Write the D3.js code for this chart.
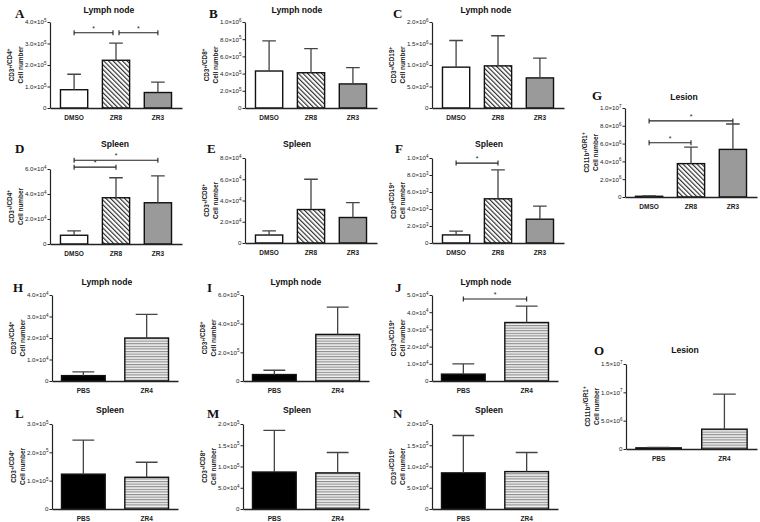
<!DOCTYPE html>
<html><head><meta charset="utf-8">
<script src="https://cdn.jsdelivr.net/npm/d3@7"></script>
<style>body{margin:0;background:#fff}svg{display:block}</style>
</head><body><svg id="c" width="760" height="522"></svg>
<script>
// ---------- data ----------
const groupsTreat = ["DMSO", "ZR8", "ZR3"];
const groupsPBS = ["PBS", "ZR4"];

const meanA = [0.85e5, 2.22e5, 0.72e5], errA = [0.72e5, 0.80e5, 0.48e5];
const ticksA = [0, 1e5, 2e5, 3e5, 4e5];
const sigA = [[0, 1, 3.5e5], [1, 2, 3.5e5]];

const meanB = [4.3e5, 4.1e5, 2.8e5], errB = [3.5e5, 2.8e5, 1.9e5];
const ticksB = [0, 2e5, 4e5, 6e5, 8e5, 1e6];

const meanC = [9.5e5, 9.8e5, 7.0e5], errC = [6.2e5, 7.0e5, 4.6e5];
const ticksC = [0, 5e5, 1e6, 1.5e6, 2e6];

const meanD = [0.7e4, 3.7e4, 3.3e4], errD = [0.35e4, 1.6e4, 2.15e4];
const ticksD = [0, 2e4, 4e4, 6e4];
const sigD = [[0, 1, 6.15e4], [0, 2, 6.7e4]];

const meanE = [0.75e4, 3.15e4, 2.4e4], errE = [0.4e4, 2.85e4, 1.4e4];
const ticksE = [0, 2e4, 4e4, 6e4, 8e4];

const meanF = [0.95e3, 5.2e3, 2.8e3], errF = [0.45e3, 3.4e3, 1.55e3];
const ticksF = [0, 2e3, 4e3, 6e3, 8e3, 1e4];
const sigF = [[0, 1, 9.4e3]];

const meanG = [0.08e6, 3.75e6, 5.35e6], errG = [0.05e6, 1.85e6, 2.85e6];
const ticksG = [0, 2e6, 4e6, 6e6, 8e6, 1e7];
const sigG = [[0, 1, 6.1e6], [0, 2, 8.55e6]];

const meanH = [0.25e4, 2.0e4], errH = [0.17e4, 1.1e4];
const ticksH = [0, 1e4, 2e4, 3e4, 4e4];

const meanI = [0.45e5, 3.25e5], errI = [0.3e5, 1.9e5];
const ticksI = [0, 2e5, 4e5, 6e5];

const meanJ = [0.4e4, 3.4e4], errJ = [0.6e4, 0.95e4];
const ticksJ = [0, 1e4, 2e4, 3e4, 4e4, 5e4];
const sigJ = [[0, 1, 4.77e4]];

const meanL = [1.23e5, 1.12e5], errL = [1.2e5, 0.53e5];
const ticksL = [0, 1e5, 2e5, 3e5];

const meanM = [0.87e5, 0.85e5], errM = [0.98e5, 0.48e5];
const ticksM = [0, 5e4, 1e5, 1.5e5, 2e5];

const meanN = [0.85e5, 0.88e5], errN = [0.88e5, 0.45e5];
const ticksN = [0, 5e4, 1e5, 1.5e5, 2e5];

const meanO = [0.02e7, 0.35e7], errO = [0.01e7, 0.62e7];
const ticksO = [0, 5e6, 1e7, 1.5e7];

// ---------- layout ----------
const panels = [
  {id:"A", title:"Lymph node", lab:["CD3","/CD4"], g:groupsTreat, m:meanA, e:errA, t:ticksA, s:sigA, x:50, top:22, bot:108, w:132, lx:15, ly:18, tx:109, ty:13},
  {id:"B", title:"Lymph node", lab:["CD3","/CD8"], g:groupsTreat, m:meanB, e:errB, t:ticksB, s:[], x:245, top:22, bot:108, w:132, lx:209, ly:18, tx:297, ty:13},
  {id:"C", title:"Lymph node", lab:["CD3","/CD19"], g:groupsTreat, m:meanC, e:errC, t:ticksC, s:[], x:432, top:22, bot:108, w:132, lx:393, ly:18, tx:486, ty:13},
  {id:"D", title:"Spleen", lab:["CD3","/CD4"], g:groupsTreat, m:meanD, e:errD, t:ticksD, s:sigD, x:50, top:169, bot:244, w:132, lx:15, ly:153, tx:115, ty:147},
  {id:"E", title:"Spleen", lab:["CD3","/CD8"], g:groupsTreat, m:meanE, e:errE, t:ticksE, s:[], x:245, top:158, bot:243, w:132, lx:207, ly:153, tx:297, ty:147},
  {id:"F", title:"Spleen", lab:["CD3","/CD19"], g:groupsTreat, m:meanF, e:errF, t:ticksF, s:sigF, x:432, top:158, bot:243, w:132, lx:395, ly:153, tx:489, ty:147},
  {id:"G", title:"Lesion", lab:["CD11b","/GR1"], g:groupsTreat, m:meanG, e:errG, t:ticksG, s:sigG, x:625, top:108, bot:197, w:132, lx:592, ly:100, tx:684, ty:100},
  {id:"H", title:"Lymph node", lab:["CD3","/CD4"], g:groupsPBS, m:meanH, e:errH, t:ticksH, s:[], x:52, top:295, bot:381, w:126, lx:13, ly:292, tx:107, ty:285},
  {id:"I", title:"Lymph node", lab:["CD3","/CD8"], g:groupsPBS, m:meanI, e:errI, t:ticksI, s:[], x:243, top:295, bot:381, w:126, lx:207, ly:292, tx:296, ty:285},
  {id:"J", title:"Lymph node", lab:["CD3","/CD19"], g:groupsPBS, m:meanJ, e:errJ, t:ticksJ, s:sigJ, x:432, top:295, bot:381, w:126, lx:395, ly:292, tx:486, ty:285},
  {id:"L", title:"Spleen", lab:["CD3","/CD4"], g:groupsPBS, m:meanL, e:errL, t:ticksL, s:[], x:52, top:424, bot:509, w:126, lx:15, ly:418, tx:110, ty:413},
  {id:"M", title:"Spleen", lab:["CD3","/CD8"], g:groupsPBS, m:meanM, e:errM, t:ticksM, s:[], x:243, top:424, bot:509, w:126, lx:207, ly:418, tx:297, ty:413},
  {id:"N", title:"Spleen", lab:["CD3","/CD19"], g:groupsPBS, m:meanN, e:errN, t:ticksN, s:[], x:432, top:424, bot:509, w:126, lx:393, ly:418, tx:489, ty:413},
  {id:"O", title:"Lesion", lab:["CD11b","/GR1"], g:groupsPBS, m:meanO, e:errO, t:ticksO, s:[], x:626, top:364, bot:449, w:131, lx:594, ly:355, tx:685, ty:353}
];

const SANS = "'Liberation Sans', Arial, sans-serif";
const SERIF = "'Liberation Serif', 'Times New Roman', serif";

const svg = d3.select("#c");
const defs = svg.append("defs");
// diagonal hatch for ZR8
const ph = defs.append("pattern").attr("id","hatch").attr("patternUnits","userSpaceOnUse")
  .attr("width",3.3).attr("height",10).attr("patternTransform","rotate(-45)");
ph.append("rect").attr("width",3.3).attr("height",10).attr("fill","#fff");
ph.append("line").attr("x1",0.6).attr("y1",0).attr("x2",0.6).attr("y2",10).attr("stroke","#1a1a1a").attr("stroke-width",1.05);
// horizontal stripes for ZR4
const ps = defs.append("pattern").attr("id","stripes").attr("patternUnits","userSpaceOnUse")
  .attr("width",10).attr("height",2.6);
ps.append("rect").attr("width",10).attr("height",2.6).attr("fill","#f2f2f2");
ps.append("rect").attr("y",0).attr("width",10).attr("height",1.1).attr("fill","#8a8a8a");

const fillOf = {DMSO:"#ffffff", ZR8:"url(#hatch)", ZR3:"#9a9a9a", PBS:"#000000", ZR4:"url(#stripes)"};

function tickText(sel, d){
  sel.text(null);
  if (d === 0) { sel.text("0"); return; }
  const ex = Math.floor(Math.log10(d) + 1e-9);
  const man = d / Math.pow(10, ex);
  sel.append("tspan").text(man.toFixed(1) + "×10");
  sel.append("tspan").attr("dy", -2.4).attr("font-size", "4.5px").text(String(ex));
}

panels.forEach(p => {
  const g = svg.append("g").attr("class","panel");
  const x = d3.scaleBand().domain(p.g).range([p.x, p.x + p.w]);
  if (p.g.length === 3) x.paddingInner(0.35).paddingOuter(0.25);
  else x.paddingInner(0.31).paddingOuter(0.15);
  const y = d3.scaleLinear().domain([0, d3.max(p.t)]).range([p.bot, p.top]);

  // bars
  g.selectAll("rect.bar").data(p.g).join("rect").attr("class","bar")
    .attr("x", d => x(d)).attr("width", x.bandwidth())
    .attr("y", (d,i) => y(p.m[i])).attr("height", (d,i) => p.bot - y(p.m[i]))
    .attr("fill", d => fillOf[d]).attr("stroke","#111").attr("stroke-width",1.4);

  // error bars (upper only)
  const cap = x.bandwidth() * 0.5;
  g.selectAll("path.err").data(p.g).join("path").attr("class","err")
    .attr("d", (d,i) => {
      const cx = x(d) + x.bandwidth()/2, y0 = y(p.m[i]), y1 = y(p.m[i] + p.e[i]);
      return `M${cx},${y0}V${y1}M${cx - cap/2},${y1}H${cx + cap/2}`;
    })
    .attr("fill","none").attr("stroke","#444").attr("stroke-width",1.3);

  // y axis
  const ya = g.append("g").attr("transform",`translate(${p.x},0)`)
    .call(d3.axisLeft(y).tickValues(p.t).tickSize(2.5).tickSizeOuter(0));
  ya.select(".domain").attr("stroke","#222").attr("stroke-width",1.2);
  ya.selectAll(".tick line").attr("stroke","#222").attr("stroke-width",1);
  ya.selectAll(".tick text").attr("x",-3.5).attr("font-family",SANS).attr("font-size","6.2px")
    .attr("fill","#222").each(function(d){ tickText(d3.select(this), d); });

  // x axis
  const xa = g.append("g").attr("transform",`translate(0,${p.bot})`)
    .call(d3.axisBottom(x).tickSize(0).tickSizeOuter(0).tickPadding(7));
  xa.select(".domain").attr("stroke","#222").attr("stroke-width",1.3);
  xa.selectAll(".tick text").attr("font-family",SANS).attr("font-size","6.5px")
    .attr("font-weight","bold").attr("fill","#222");

  // significance brackets (pull apart brackets sharing an end at the same level)
  p.s.forEach(([a, b, v], k) => {
    const shared = (idx) => p.s.some((o, j) => j !== k && o[2] === v && (o[0] === idx || o[1] === idx));
    let x1 = x(p.g[a]) + x.bandwidth()/2, x2 = x(p.g[b]) + x.bandwidth()/2;
    if (shared(a)) x1 += 3;
    if (shared(b)) x2 -= 3;
    const yy = y(v);
    g.append("path").attr("d",`M${x1},${yy - 2.5}V${yy + 2.5}M${x1},${yy}H${x2}M${x2},${yy - 2.5}V${yy + 2.5}`)
      .attr("stroke","#222").attr("stroke-width",1.1).attr("fill","none");
    g.append("text").attr("x",(x1 + x2)/2).attr("y", yy - 2).attr("text-anchor","middle")
      .attr("font-family",SANS).attr("font-size","7px").attr("fill","#222").text("*");
  });

  // y labels (two rotated lines)
  const ym = (p.top + p.bot) / 2;
  const l1 = g.append("text").attr("transform",`translate(${p.x - 36},${ym}) rotate(-90)`)
    .attr("text-anchor","middle").attr("font-family",SANS).attr("font-size","6.4px")
    .attr("font-weight","bold").attr("fill","#222");
  p.lab.forEach(part => {
    l1.append("tspan").attr("dy", 0).text(part);
    l1.append("tspan").attr("dy", -2.2).attr("font-size","4.6px").text("+");
    l1.append("tspan").attr("dy", 2.2).text("");
  });
  g.append("text").attr("transform",`translate(${p.x - 27},${ym}) rotate(-90)`)
    .attr("text-anchor","middle").attr("font-family",SANS).attr("font-size","6.4px")
    .attr("font-weight","bold").attr("fill","#222").text("Cell number");

  // title
  g.append("text").attr("x",p.tx).attr("y",p.ty).attr("text-anchor","middle")
    .attr("font-family",SANS).attr("font-size","8.6px").attr("font-weight","bold").attr("fill","#111").text(p.title);

  // panel letter
  g.append("text").attr("x",p.lx).attr("y",p.ly).attr("font-family",SERIF).attr("font-size","13px")
    .attr("font-weight","bold").attr("fill","#111").text(p.id);
});
</script></body></html>
